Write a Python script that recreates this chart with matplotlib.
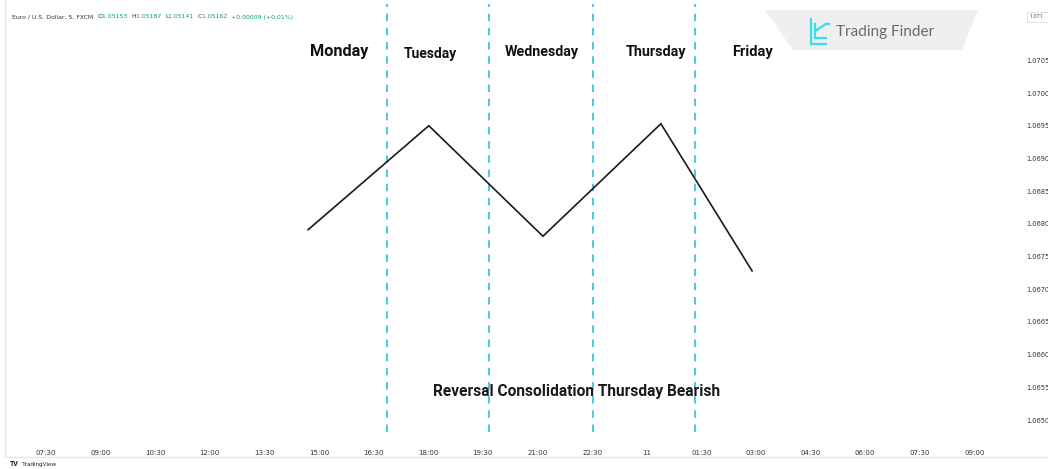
import matplotlib
matplotlib.use("Agg")
import matplotlib.pyplot as plt
from matplotlib.patches import Polygon, FancyBboxPatch
from matplotlib.lines import Line2D

plt.rcParams['font.family'] = ['Roboto', 'DejaVu Sans']

# ---------------- data ----------------
time_labels = ["07:30", "09:00", "10:30", "12:00", "13:30", "15:00", "16:30", "18:00", "19:30",
               "21:00", "22:30", "11", "01:30", "03:00", "04:30", "06:00", "07:30", "09:00"]
price_ticks = [1.0650, 1.0655, 1.0660, 1.0665, 1.0670, 1.0675, 1.0680, 1.0685, 1.0690,
               1.0695, 1.0700, 1.0705]
path_x = [4.80, 7.01, 9.10, 11.26, 12.93]          # bar-index positions of swing points
path_y = [1.06791, 1.06950, 1.06781, 1.06953, 1.06728]
day_sep_x = [6.245, 8.11, 10.02, 11.89]
day_names = ["Monday", "Tuesday", "Wednesday", "Thursday", "Friday"]
day_label_x = [5.37, 7.03, 9.07, 11.17, 12.93]
day_label_y = [1.07063, 1.07060, 1.07063, 1.07063, 1.07063]
day_label_size = [11.7, 10.0, 10.3, 10.4, 10.5]
title_text = "Reversal Consolidation Thursday Bearish"

W, H = 1048, 469
fig = plt.figure(figsize=(W / 100, H / 100), dpi=100)
fig.patch.set_facecolor("white")


def px(x, y):
    return (x / W, 1 - y / H)


# watermark (behind the transparent axes)
wm = Polygon([px(765, 10), px(978, 10), px(962, 50), px(793, 50)], closed=True,
             transform=fig.transFigure, facecolor="#efefef", edgecolor="none", zorder=0)
fig.add_artist(wm)

# axes in pixel box: x 5..1000, y 0..432 (from top)
L, R, T, B = 5, 1000, 0, 432
ax = fig.add_axes([L / W, 1 - B / H, (R - L) / W, (B - T) / H])
ax.patch.set_alpha(0)
ax.set_xlim(-0.751, 17.47)
ax.set_ylim(1.064817, 1.071422)
for s in ax.spines.values():
    s.set_visible(False)
ax.set_xticks(range(len(time_labels)))
ax.set_xticklabels(time_labels, fontsize=5, color="#333333", family="DejaVu Sans")
ax.tick_params(axis="x", length=0, pad=13)
ax.yaxis.tick_right()
ax.set_yticks(price_ticks)
ax.set_yticklabels([f"{p:.4f}" for p in price_ticks], fontsize=4.8, color="#333333",
                   family="DejaVu Sans")
ax.tick_params(axis="y", length=0, pad=19)
for lbl in ax.get_yticklabels():
    lbl.set_horizontalalignment("left")

# day separators
for x in day_sep_x:
    ax.axvline(x, ymin=0.0, ymax=0.99, color="#2bbfd8", lw=1.2, ls=(0, (4.5, 4)))

# price path
ax.plot(path_x, path_y, color="#1a1a1a", lw=1.2, solid_joinstyle="miter")

# day labels
for name, x, y, fs in zip(day_names, day_label_x, day_label_y, day_label_size):
    ax.text(x, y, name, ha="center", va="center", fontsize=fs,
            fontweight="bold", color="#111111")

ax.text(9.71, 1.065443, title_text, ha="center", va="center", fontsize=11.2,
        fontweight="bold", color="#1a1a1a")

# frame lines
fig.add_artist(Line2D([5 / W, 5 / W], [1, 1 - 457 / H], transform=fig.transFigure,
                      color="#e6e6e6", lw=1))
fig.add_artist(Line2D([5 / W, 1], [1 - 457 / H, 1 - 457 / H], transform=fig.transFigure,
                      color="#e6e6e6", lw=1))

# top legend line
t = fig.text(12 / W, 1 - 17 / H, "Euro / U.S. Dollar, 5, FXCM  ", fontsize=4.4,
             color="#333333", va="center", family="DejaVu Sans")
parts = [("O", "#333333"), ("1.05153  ", "#089981"), ("H", "#333333"), ("1.05187  ", "#089981"),
         ("L", "#333333"), ("1.05141  ", "#089981"), ("C", "#333333"), ("1.05162  ", "#089981"),
         ("+0.00009 (+0.01%)", "#089981")]
last = t
for s, c in parts:
    last = ax.annotate(s, xy=(1, 0), xycoords=last, fontsize=4.4, color=c, va="bottom",
                       ha="left", family="DejaVu Sans", annotation_clip=False)

# watermark logo + text
logo_c = "#2ee0f0"
for seg in [[(811, 19), (811, 44)], [(811, 44), (826, 44)], [(815, 24), (815, 38)],
            [(815, 38), (826, 38)], [(815, 31), (826, 24)], [(826, 24), (829, 24)]]:
    xs = [seg[0][0] / W, seg[1][0] / W]
    ys = [1 - seg[0][1] / H, 1 - seg[1][1] / H]
    fig.add_artist(Line2D(xs, ys, transform=fig.transFigure, color=logo_c, lw=1.6))
fig.text(836 / W, 1 - 32 / H, "Trading Finder", fontsize=11, color="#6b6b6b", va="center",
         family="Lato")

# top-right price box
fig.add_artist(FancyBboxPatch((1027 / W, 1 - 22 / H), 30 / W, 10 / H,
                              boxstyle="square,pad=0", transform=fig.transFigure,
                              facecolor="white", edgecolor="#dddddd", lw=0.6))
fig.text(1030 / W, 1 - 17 / H, "1.071", fontsize=4, color="#555555", va="center")

# TradingView footer
fig.text(10 / W, 1 - 464 / H, "TV", fontsize=5, fontweight="bold", color="#131722",
         va="center")
fig.text(22 / W, 1 - 464 / H, "TradingView", fontsize=4.6, color="#333333", va="center")

fig.savefig("out.png", dpi=100)
